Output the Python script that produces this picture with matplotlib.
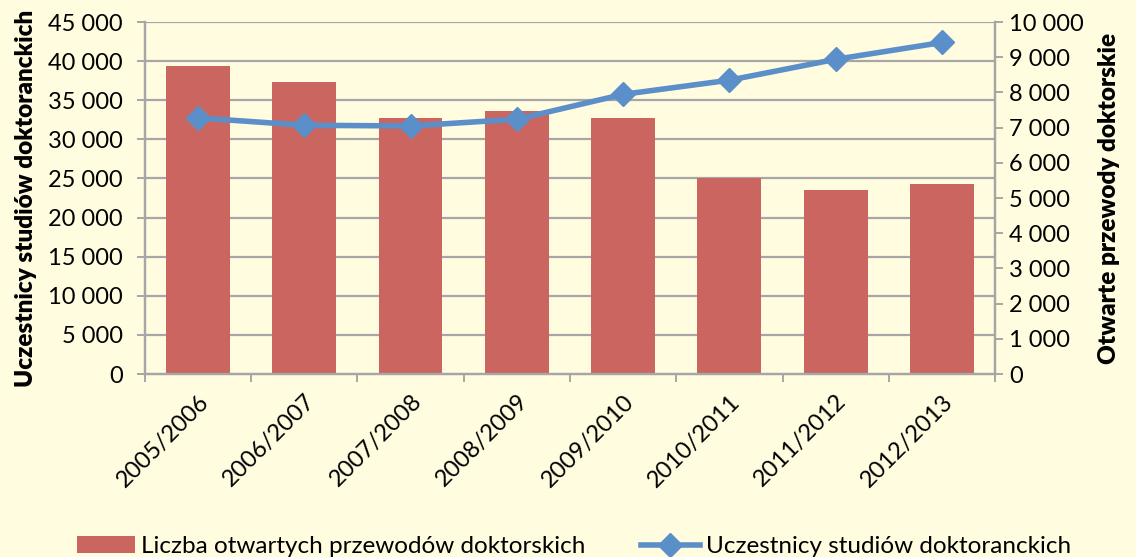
import matplotlib.pyplot as plt
import numpy as np
from matplotlib.ticker import FuncFormatter, MultipleLocator

years = ["2005/2006", "2006/2007", "2007/2008", "2008/2009",
         "2009/2010", "2010/2011", "2011/2012", "2012/2013"]
# bars, read against the right axis
przewody = [8760, 8290, 7280, 7460, 7270, 5560, 5230, 5390]
# line, read against the left axis
uczestnicy = [32740, 31800, 31710, 32570, 35750, 37560, 40230, 42380]

bar_label = "Liczba otwartych przewodów doktorskich"
line_label = "Uczestnicy studiów doktoranckich"

bg = '#FFFCE0'
grey = '#A6A6A6'
plt.rcParams['font.family'] = ['Lato', 'DejaVu Sans']

def spaced(v, pos):
    return f"{int(v):,}".replace(",", " ")

fig = plt.figure(figsize=(11.36, 5.57), dpi=100, facecolor=bg)
ax = fig.add_axes([0.1276, 0.3285, 0.7483, 0.632])
ax2 = ax.twinx()
ax2.set_zorder(1)
ax.set_zorder(2)
ax.patch.set_visible(False)
ax2.patch.set_visible(False)

x = np.arange(len(years))
ax2.bar(x, przewody, 0.6, color='#CB6560', zorder=2, label=bar_label)
ax.plot(x, uczestnicy, color='#5B8FC9', lw=4, marker='D', ms=12,
        zorder=3, label=line_label)

ax.set_xlim(-0.5, len(years) - 0.5)
ax.set_ylim(0, 45000)
ax2.set_ylim(0, 10000)
ax.yaxis.set_major_locator(MultipleLocator(5000))
ax2.yaxis.set_major_locator(MultipleLocator(1000))
ax.yaxis.set_major_formatter(FuncFormatter(spaced))
ax2.yaxis.set_major_formatter(FuncFormatter(spaced))

# gridlines follow the left axis, drawn behind the bars
for v in np.arange(5000, 45001, 5000):
    ax2.axhline(v / 4.5, color=grey, lw=1.6, zorder=1)

ax.set_xticks(x)
ax.set_xticklabels(years, rotation=45, ha='right', rotation_mode='anchor')
ax.set_xticks(np.arange(-0.5, len(years)), minor=True)
ax.tick_params(axis='x', which='major', length=0, pad=12, labelsize=17)
ax.tick_params(axis='x', which='minor', length=6, width=1.4, color=grey)
ax.tick_params(axis='y', length=6, width=1.4, color=grey, labelsize=17, pad=10)
ax2.tick_params(axis='y', length=6, width=1.4, color=grey, labelsize=17, pad=4)
ax2.tick_params(axis='x', length=0)

for a in (ax, ax2):
    a.spines['top'].set_visible(False)
    for s in ('left', 'right', 'bottom'):
        a.spines[s].set_color(grey)
        a.spines[s].set_linewidth(1.6)

ax.set_ylabel("Uczestnicy studiów doktoranckich", fontsize=17.5, fontweight='heavy', labelpad=8)
ax2.set_ylabel("Otwarte przewody doktorskie", fontsize=17.5, fontweight='heavy', labelpad=10)

h1, l1 = ax2.get_legend_handles_labels()
h2, l2 = ax.get_legend_handles_labels()
fig.legend(h1 + h2, l1 + l2, loc='lower center', bbox_to_anchor=(0.505, -0.04),
           ncol=2, frameon=False, fontsize=17.5, handlelength=2.4,
           handletextpad=0.25, columnspacing=2.3)

plt.savefig("out.png", dpi=100, facecolor=bg)
